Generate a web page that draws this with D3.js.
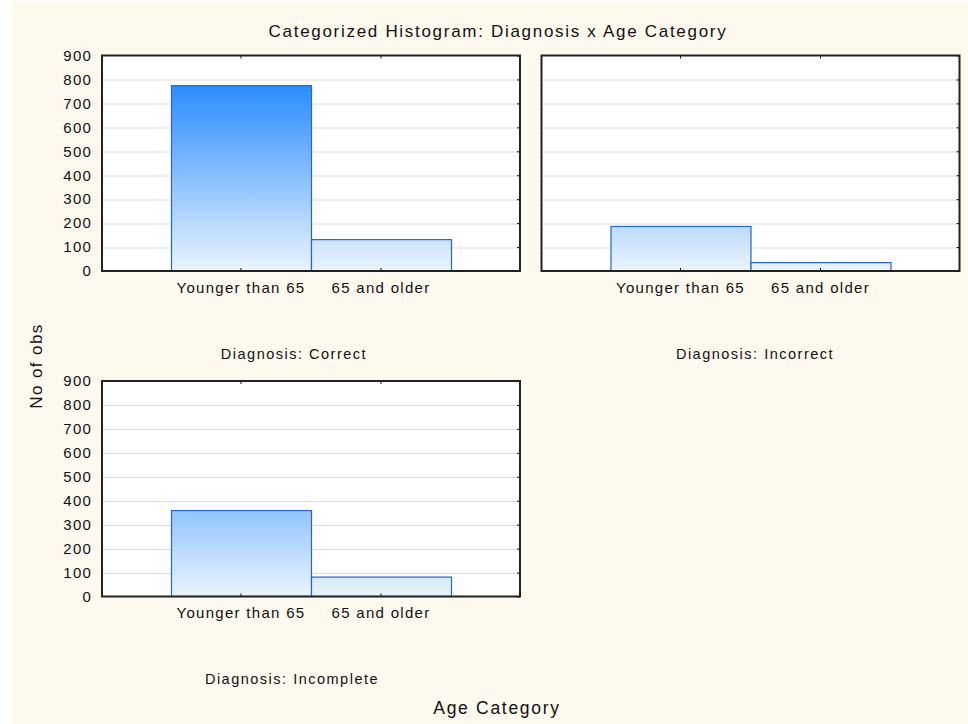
<!DOCTYPE html>
<html>
<head>
<meta charset="utf-8">
<script src="https://cdn.jsdelivr.net/npm/d3@7"></script>
<style>
  body { margin: 0; background: #fff; }
  svg { display: block; font-family: "Liberation Sans", Arial, sans-serif; }
</style>
</head>
<body>
<div id="chart"></div>
<script>
// data
const categories = ["Younger than 65", "65 and older"];
const diagnoses = ["Correct", "Incorrect", "Incomplete"];
const correctCounts = [774, 131];
const incorrectCounts = [186, 35];
const incompleteCounts = [359, 81];
const yTicks = [0, 100, 200, 300, 400, 500, 600, 700, 800, 900];

const W = 968, H = 724;
const pw = 418, ph = 215.5;

const panels = [
  { name: diagnoses[0], values: correctCounts, x: 102, y: 55.5, labels: true, cap: [294, 359] },
  { name: diagnoses[1], values: incorrectCounts, x: 541.5, y: 55.5, labels: false, cap: [755, 359] },
  { name: diagnoses[2], values: incompleteCounts, x: 102, y: 381, labels: true, cap: [292, 684] }
];

const svg = d3.select("#chart").append("svg")
  .attr("width", W).attr("height", H);

svg.append("rect").attr("x", 12).attr("y", 1).attr("width", W - 12).attr("height", H - 1)
  .attr("fill", "#fdf9ef");

const x = d3.scaleBand().domain(categories).range([69, 349]).padding(0);
const y = d3.scaleLinear().domain([0, 900]).range([ph, 0]);

const defs = svg.append("defs");

panels.forEach((p, i) => {
  const g = svg.append("g").attr("transform", `translate(${p.x},${p.y})`);

  // gradient tied to the plot height, in the panel's own coordinates
  const grad = defs.append("linearGradient")
    .attr("id", "grad" + i)
    .attr("gradientUnits", "userSpaceOnUse")
    .attr("x1", 0).attr("x2", 0)
    .attr("y1", y(0)).attr("y2", y(800));
  grad.append("stop").attr("offset", 0).attr("stop-color", "#ebf4fd");
  grad.append("stop").attr("offset", 1).attr("stop-color", "#2389ff");

  g.append("rect").attr("width", pw).attr("height", ph).attr("fill", "#fff");

  // gridlines
  g.append("g").selectAll("line")
    .data(yTicks.slice(1, -1))
    .join("line")
      .attr("x1", 0).attr("x2", pw)
      .attr("y1", d => Math.round(y(d)) + 0.5).attr("y2", d => Math.round(y(d)) + 0.5)
      .attr("stroke", "#dcdcdc");

  // bars
  g.append("g").selectAll("rect")
    .data(categories.map((c, j) => ({ c, v: p.values[j] })))
    .join("rect")
      .attr("x", d => x(d.c) + 0.5)
      .attr("y", d => y(d.v))
      .attr("width", x.bandwidth())
      .attr("height", d => ph - y(d.v))
      .attr("fill", `url(#grad${i})`)
      .attr("stroke", "#2563d6")
      .attr("stroke-width", 1.2);

  // y labels (only the left column)
  if (p.labels) {
    const left = g.append("g")
      .call(d3.axisLeft(y).tickValues(yTicks).tickSize(0).tickPadding(10));
    left.select(".domain").remove();
    left.selectAll("text").attr("font-size", 15).attr("fill", "#111")
      .attr("letter-spacing", 1.2)
      .attr("font-family", "Liberation Sans, Arial, sans-serif");
  }

  // inward ticks on right, bottom and top
  const right = g.append("g").attr("transform", `translate(${pw},0)`)
    .call(d3.axisLeft(y).tickValues(yTicks).tickSize(3).tickFormat(""));
  right.select(".domain").remove();
  right.selectAll("line").attr("stroke", "#111");

  const bottom = g.append("g").attr("transform", `translate(0,${ph})`)
    .call(d3.axisTop(x).tickSize(3).tickFormat(""));
  bottom.select(".domain").remove();
  bottom.selectAll("line").attr("stroke", "#111");

  const top = g.append("g")
    .call(d3.axisBottom(x).tickSize(3).tickFormat(""));
  top.select(".domain").remove();
  top.selectAll("line").attr("stroke", "#111");

  const labels = g.append("g").attr("transform", `translate(0,${ph})`)
    .call(d3.axisBottom(x).tickSize(0).tickPadding(11));
  labels.select(".domain").remove();
  labels.selectAll("text").attr("font-size", 15).attr("fill", "#111")
    .attr("letter-spacing", 1.3)
    .attr("font-family", "Liberation Sans, Arial, sans-serif");

  // frame
  g.append("rect").attr("width", pw).attr("height", ph)
    .attr("fill", "none").attr("stroke", "#222").attr("stroke-width", 2);

  svg.append("text")
    .attr("x", p.cap[0]).attr("y", p.cap[1])
    .attr("text-anchor", "middle")
    .attr("font-size", 14.5)
    .attr("letter-spacing", 1.5)
    .attr("fill", "#111")
    .text("Diagnosis: " + p.name);
});

svg.append("text")
  .attr("x", 498).attr("y", 37)
  .attr("text-anchor", "middle")
  .attr("font-size", 17)
  .attr("letter-spacing", 1.7)
  .attr("fill", "#111")
  .text("Categorized Histogram: Diagnosis x Age Category");

svg.append("text")
  .attr("transform", "translate(42,366) rotate(-90)")
  .attr("text-anchor", "middle")
  .attr("font-size", 17)
  .attr("letter-spacing", 1.4)
  .attr("fill", "#111")
  .text("No of obs");

svg.append("text")
  .attr("x", 497).attr("y", 714)
  .attr("text-anchor", "middle")
  .attr("font-size", 17.5)
  .attr("letter-spacing", 1.7)
  .attr("fill", "#111")
  .text("Age Category");
</script>
</body>
</html>
